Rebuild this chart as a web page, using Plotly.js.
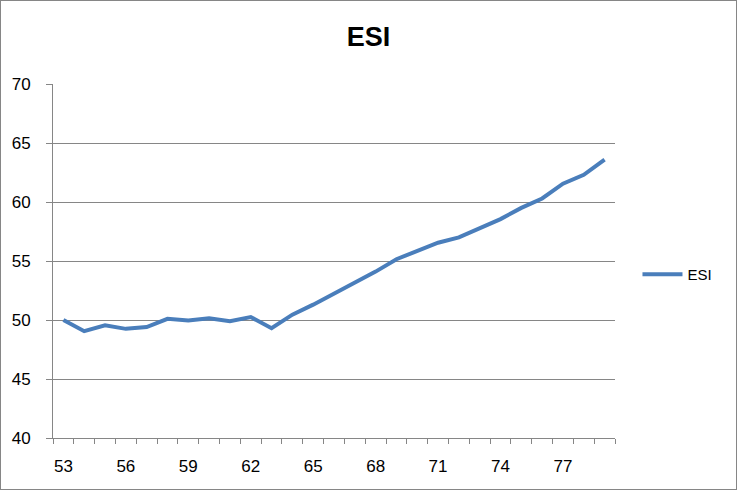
<!DOCTYPE html>
<html>
<head>
<meta charset="utf-8">
<script src="https://cdn.plot.ly/plotly-3.0.1.min.js"></script>
<style>
  html, body { margin: 0; padding: 0; background: #fff; }
  #wrap { position: relative; width: 737px; height: 490px; }
  #chart { width: 737px; height: 490px; }
  #frame { position: absolute; left: 0; top: 0; width: 737px; height: 490px; box-sizing: border-box; border: 1px solid #868686; pointer-events: none; }
</style>
</head>
<body>
<div id="wrap"><div id="chart"></div><div id="frame"></div></div>
<script>
// Categories (x) and ESI series values
const categories = [53,54,55,56,57,58,59,60,61,62,63,64,65,66,67,68,69,70,71,72,73,74,75,76,77,78,79];
const esiValues  = [50.0,49.05,49.55,49.25,49.4,50.1,49.95,50.15,49.9,50.25,49.3,50.45,51.3,52.25,53.2,54.1,55.15,55.85,56.55,57.0,57.75,58.55,59.5,60.3,61.55,62.3,63.6];
// Tick labels on the category axis
const xTickLabels = [53,56,59,62,65,68,71,74,77];
const yTicks = [40,45,50,55,60,65,70];

const boundaries = [];
for (let i = 0; i <= categories.length; i++) boundaries.push(categories[0] - 0.5 + i);
const xRange = [categories[0] - 0.5, categories[categories.length - 1] + 0.5];

const font = 'Liberation Sans, Arial, sans-serif';
const axisColor = '#868686';

const trace = {
  x: categories,
  y: esiValues,
  type: 'scatter',
  mode: 'lines',
  name: 'ESI',
  line: { color: '#4A7EBB', width: 4 },
  xaxis: 'x',
  yaxis: 'y'
};
// invisible helper trace so the label axis is drawn
const labelTrace = {
  x: categories, y: esiValues, type: 'scatter', mode: 'lines',
  line: { width: 0, color: 'rgba(0,0,0,0)' }, showlegend: false, hoverinfo: 'skip',
  xaxis: 'x2', yaxis: 'y'
};

const layout = {
  width: 737, height: 490,
  paper_bgcolor: '#ffffff', plot_bgcolor: '#ffffff',
  margin: { l: 53, r: 122, t: 84, b: 52 },
  font: { family: font, size: 17, color: '#000000' },
  title: { text: '<b>ESI</b>', font: { family: font, size: 27, color: '#000000' }, x: 0.5, xanchor: 'center', y: 0.925, yanchor: 'middle' },
  showlegend: true,
  legend: { x: 1.04, xanchor: 'left', y: 0.462, yanchor: 'middle', font: { family: font, size: 15, color: '#000' }, bgcolor: 'rgba(0,0,0,0)', itemwidth: 40 },
  xaxis: {
    range: xRange, tickmode: 'array', tickvals: boundaries, showticklabels: false,
    ticks: 'outside', ticklen: 5, tickcolor: axisColor, tickwidth: 1,
    showline: true, linecolor: axisColor, linewidth: 1, showgrid: false, zeroline: false
  },
  xaxis2: {
    overlaying: 'x', matches: 'x', side: 'bottom', range: xRange,
    tickmode: 'array', tickvals: xTickLabels, ticktext: xTickLabels.map(String),
    ticks: 'outside', ticklen: 13, tickcolor: 'rgba(0,0,0,0)',
    showline: false, showgrid: false, zeroline: false,
    tickfont: { family: font, size: 17, color: '#000' }
  },
  yaxis: {
    range: [40, 70], tickmode: 'array', tickvals: yTicks,
    ticks: 'outside', ticklen: 6, tickcolor: axisColor,
    showline: true, linecolor: axisColor, linewidth: 1,
    showgrid: true, gridcolor: axisColor, gridwidth: 1, zeroline: false,
    ticklabelstandoff: 12,
    tickfont: { family: font, size: 17, color: '#000' }
  }
};

Plotly.newPlot('chart', [labelTrace, trace], layout, { displayModeBar: false, staticPlot: true });
</script>
</body>
</html>
